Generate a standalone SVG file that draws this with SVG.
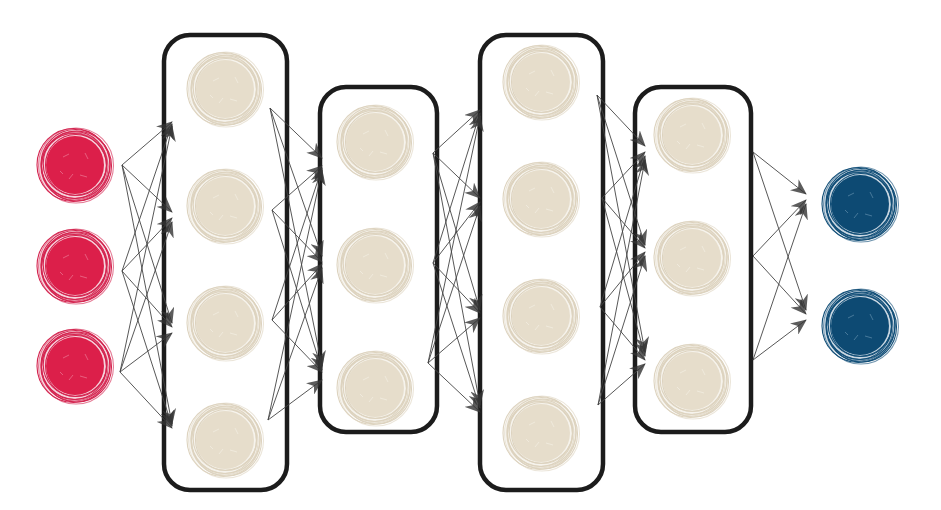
<svg xmlns="http://www.w3.org/2000/svg" xmlns:xlink="http://www.w3.org/1999/xlink" width="941" height="510" viewBox="0 0 941 510">
<style>
.box{fill:none;stroke:#1c1c1c;stroke-width:4.5}
.ln{stroke:#444;stroke-width:0.9;fill:none;marker-end:url(#ah)}
.ring{fill:none;stroke-width:1.1}
</style>
<defs>
<marker id="ah" markerUnits="userSpaceOnUse" markerWidth="18" markerHeight="14" refX="15" refY="7" orient="auto">
<path d="M0,0 L16,7 L0,14 L5,7 Z" fill="#333" fill-opacity="0.8"/>
</marker>
<g id="sc-beige">
<circle r="36" fill="#f6f3ec"/>
<circle r="29" fill="#e6ddcb"/>
<g class="ring" stroke="#ddd3bf">
<circle cx="1" cy="0" r="30.5"/><circle cx="-1" cy="1" r="32.5"/><circle cx="0.5" cy="-1" r="34.5"/>
<circle cx="-1.5" cy="0" r="36.5"/><circle cx="1.5" cy="1" r="35"/><circle cx="0" cy="-1.5" r="31.8"/>
<circle cx="1" cy="0.5" r="37.5" stroke-opacity="0.6"/><circle cx="-0.5" cy="1.5" r="33.5" stroke-opacity="0.7"/>
</g>
<g stroke="#f5f1e8" stroke-width="0.6" fill="none">
<path d="M-12,-8 l6,-3 M5,10 l7,2 M-6,14 l4,-5 M10,-12 l3,6 M-15,6 l3,3"/>
</g>
</g>
<g id="sc-red">
<circle r="36" fill="#f6d3dc"/>
<circle r="29" fill="#dc1f4a"/>
<g class="ring" stroke="#d42550">
<circle cx="1" cy="0" r="30.5"/><circle cx="-1" cy="1" r="32.5"/><circle cx="0.5" cy="-1" r="34.5"/>
<circle cx="-1.5" cy="0" r="36.5"/><circle cx="1.5" cy="1" r="35"/><circle cx="0" cy="-1.5" r="31.8"/>
<circle cx="1" cy="0.5" r="37.5" stroke-opacity="0.6"/><circle cx="-0.5" cy="1.5" r="33.5" stroke-opacity="0.7"/>
</g>
<g stroke="#f08aa2" stroke-width="0.6" fill="none">
<path d="M-12,-8 l6,-3 M5,10 l7,2 M-6,14 l4,-5 M10,-12 l3,6 M-15,6 l3,3"/>
</g>
</g>
<g id="sc-blue">
<circle r="36" fill="#c9d7e2"/>
<circle r="29" fill="#0d4a73"/>
<g class="ring" stroke="#124f78">
<circle cx="1" cy="0" r="30.5"/><circle cx="-1" cy="1" r="32.5"/><circle cx="0.5" cy="-1" r="34.5"/>
<circle cx="-1.5" cy="0" r="36.5"/><circle cx="1.5" cy="1" r="35"/><circle cx="0" cy="-1.5" r="31.8"/>
<circle cx="1" cy="0.5" r="37.5" stroke-opacity="0.6"/><circle cx="-0.5" cy="1.5" r="33.5" stroke-opacity="0.7"/>
</g>
<g stroke="#6f98b5" stroke-width="0.6" fill="none">
<path d="M-12,-8 l6,-3 M5,10 l7,2 M-6,14 l4,-5 M10,-12 l3,6 M-15,6 l3,3"/>
</g>
</g>
</defs>
<rect width="941" height="510" fill="#ffffff"/>

<g id="layer-boxes">
<rect id="box1" class="box" x="164" y="35" width="123" height="455" rx="26"/>
<rect id="box2" class="box" x="320" y="87" width="117" height="345" rx="26"/>
<rect id="box3" class="box" x="480" y="35" width="123" height="455" rx="26"/>
<rect id="box4" class="box" x="635" y="87" width="116" height="345" rx="26"/>
</g>

<g id="input-nodes">
<g id="in1"><use xlink:href="#sc-red" href="#sc-red" x="75" y="165"/></g>
<g id="in2"><use xlink:href="#sc-red" href="#sc-red" x="75" y="266"/></g>
<g id="in3"><use xlink:href="#sc-red" href="#sc-red" x="75" y="366"/></g>
</g>
<g id="hidden1">
<g id="h1a"><use href="#sc-beige" x="225" y="89"/></g>
<g id="h1b"><use href="#sc-beige" x="225" y="206"/></g>
<g id="h1c"><use href="#sc-beige" x="225" y="323"/></g>
<g id="h1d"><use href="#sc-beige" x="225" y="440"/></g>
</g>
<g id="hidden2">
<g id="h2a"><use href="#sc-beige" x="375" y="142"/></g>
<g id="h2b"><use href="#sc-beige" x="375" y="265"/></g>
<g id="h2c"><use href="#sc-beige" x="375" y="388"/></g>
</g>
<g id="hidden3">
<g id="h3a"><use href="#sc-beige" x="541" y="82"/></g>
<g id="h3b"><use href="#sc-beige" x="541" y="199"/></g>
<g id="h3c"><use href="#sc-beige" x="541" y="316"/></g>
<g id="h3d"><use href="#sc-beige" x="541" y="433"/></g>
</g>
<g id="hidden4">
<g id="h4a"><use href="#sc-beige" x="692" y="135"/></g>
<g id="h4b"><use href="#sc-beige" x="692" y="258"/></g>
<g id="h4c"><use href="#sc-beige" x="692" y="381"/></g>
</g>
<g id="output-nodes">
<g id="out1"><use href="#sc-blue" x="860" y="204"/></g>
<g id="out2"><use href="#sc-blue" x="860" y="326"/></g>
</g>

<g id="connectors">
<path class="ln" d="M122,165 L172,122"/><path class="ln" d="M122,165 L172,212"/><path class="ln" d="M122,165 L172,323"/><path class="ln" d="M122,165 L172,424"/>
<path class="ln" d="M122,271 L172,124"/><path class="ln" d="M122,271 L172,218"/><path class="ln" d="M122,271 L172,327"/><path class="ln" d="M122,271 L172,426"/>
<path class="ln" d="M120,372 L172,126"/><path class="ln" d="M120,372 L172,222"/><path class="ln" d="M120,372 L172,333"/><path class="ln" d="M120,372 L172,428"/>
<path class="ln" d="M270,108 L322,158"/><path class="ln" d="M270,108 L322,256"/><path class="ln" d="M270,108 L322,366"/>
<path class="ln" d="M272,210 L322,166"/><path class="ln" d="M272,210 L322,262"/><path class="ln" d="M272,210 L322,370"/>
<path class="ln" d="M272,320 L322,168"/><path class="ln" d="M272,320 L322,264"/><path class="ln" d="M272,320 L322,372"/>
<path class="ln" d="M268,420 L322,170"/><path class="ln" d="M268,420 L322,268"/><path class="ln" d="M268,420 L322,380"/>
<path class="ln" d="M433,153 L480,110"/><path class="ln" d="M433,153 L480,198"/><path class="ln" d="M433,153 L480,310"/><path class="ln" d="M433,153 L480,405"/>
<path class="ln" d="M433,263 L480,113"/><path class="ln" d="M433,263 L480,202"/><path class="ln" d="M433,263 L480,313"/><path class="ln" d="M433,263 L480,408"/>
<path class="ln" d="M428,363 L480,116"/><path class="ln" d="M428,363 L480,206"/><path class="ln" d="M428,363 L480,318"/><path class="ln" d="M428,363 L480,412"/>
<path class="ln" d="M597,95 L645,146"/><path class="ln" d="M597,95 L645,245"/><path class="ln" d="M597,95 L645,352"/>
<path class="ln" d="M602,198 L645,152"/><path class="ln" d="M602,198 L645,248"/><path class="ln" d="M602,198 L645,356"/>
<path class="ln" d="M600,307 L645,156"/><path class="ln" d="M600,307 L645,252"/><path class="ln" d="M600,307 L645,360"/>
<path class="ln" d="M598,405 L645,160"/><path class="ln" d="M598,405 L645,256"/><path class="ln" d="M598,405 L645,364"/>
<path class="ln" d="M753,152 L806,194"/><path class="ln" d="M753,152 L806,310"/>
<path class="ln" d="M753,256 L806,200"/><path class="ln" d="M753,256 L806,314"/>
<path class="ln" d="M753,360 L806,204"/><path class="ln" d="M753,360 L806,320"/>
</g>
</svg>
